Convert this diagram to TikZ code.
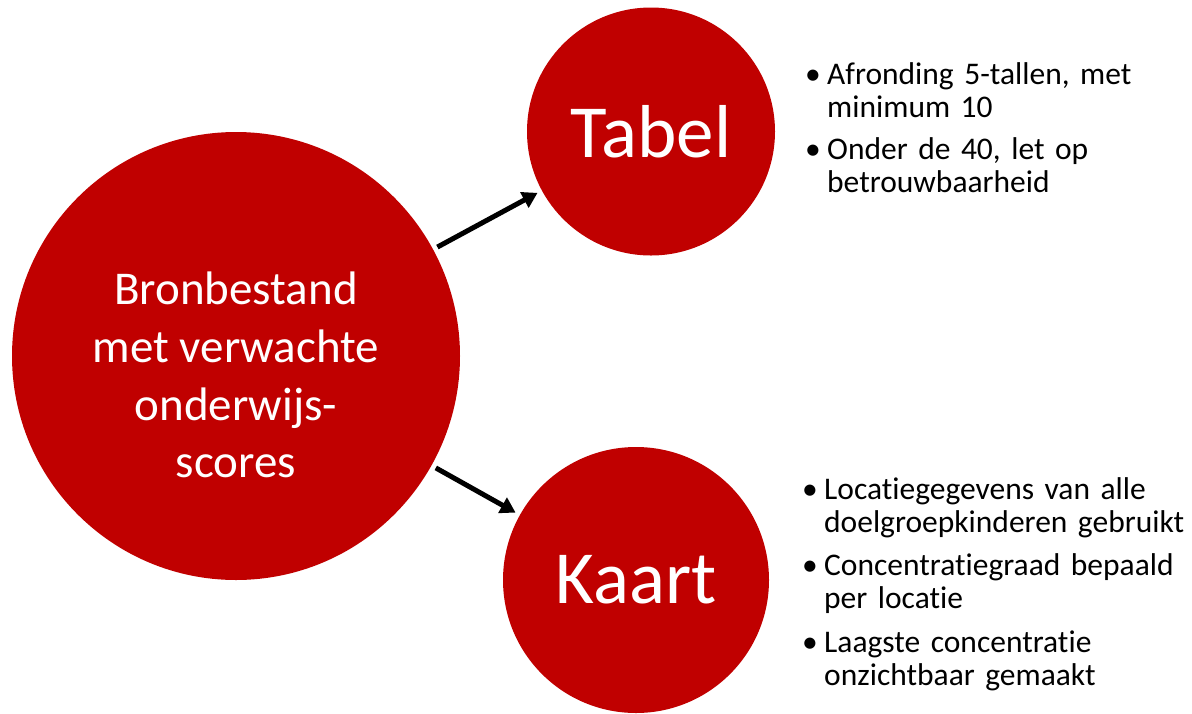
\documentclass[tikz,border=0pt]{standalone}
\usepackage{fontspec}
\setmainfont{Carlito}[Ligatures=NoCommon]
\usepackage{tikz}
\usetikzlibrary{arrows.meta}
\usetikzlibrary{positioning}
\definecolor{rood}{HTML}{C00000}
\newcommand{\bolletje}[1]{\noindent\hangindent=22pt\hangafter=1\makebox[22pt][l]{\textbullet}#1\par}

\begin{document}
\begin{tikzpicture}[x=1pt,y=-1pt,
		cirkel/.style={circle,fill=rood,inner sep=0pt,outer sep=0pt,text=white},
		pijl/.style={line width=5pt,-{Triangle[length=15pt,width=17pt]},shorten <=5pt,shorten >=5pt},
		lijst/.style={anchor=base west,inner sep=0pt,text width=385pt,font=\fontsize{31.5}{33}\selectfont\frenchspacing}]
		\useasboundingbox (0,0) rectangle (1192,713);
		\def\groot{448pt}
		\def\klein{248pt}
		% cirkels
		\node[cirkel,minimum size=\groot,align=center,text height=244pt,font=\fontsize{47}{57.7}\selectfont] (bron) at (236,356) {Bronbestand\\met verwachte\\onderwijs-\\scores};
		\node[cirkel,minimum size=\klein,font=\fontsize{75}{90}\selectfont] (tabel) at (651,131.5) {Tabel};
		\node[cirkel,minimum size=266pt,font=\fontsize{75}{90}\selectfont] (kaart) at (636,580) {Kaart};
		% pijlen
		\draw[pijl] (bron) -- (tabel);
		\draw[pijl] (bron) -- (kaart);
		% toelichting
		\node[lijst] (tabelinfo) at (805,84.3) {\setlength{\parskip}{9pt}%
			\bolletje{Afronding 5-tallen, met\newline minimum 10}%
			\bolletje{Onder de 40, let op\newline betrouwbaarheid}};
		\node[lijst] (kaartinfo) at (802,499.3) {\setlength{\parskip}{10.5pt}%
			\bolletje{Locatiegegevens van alle\newline doelgroepkinderen gebruikt}%
			\bolletje{Concentratiegraad bepaald\newline per locatie}%
			\bolletje{Laagste concentratie\newline onzichtbaar gemaakt}};
	\end{tikzpicture}
\end{document}
